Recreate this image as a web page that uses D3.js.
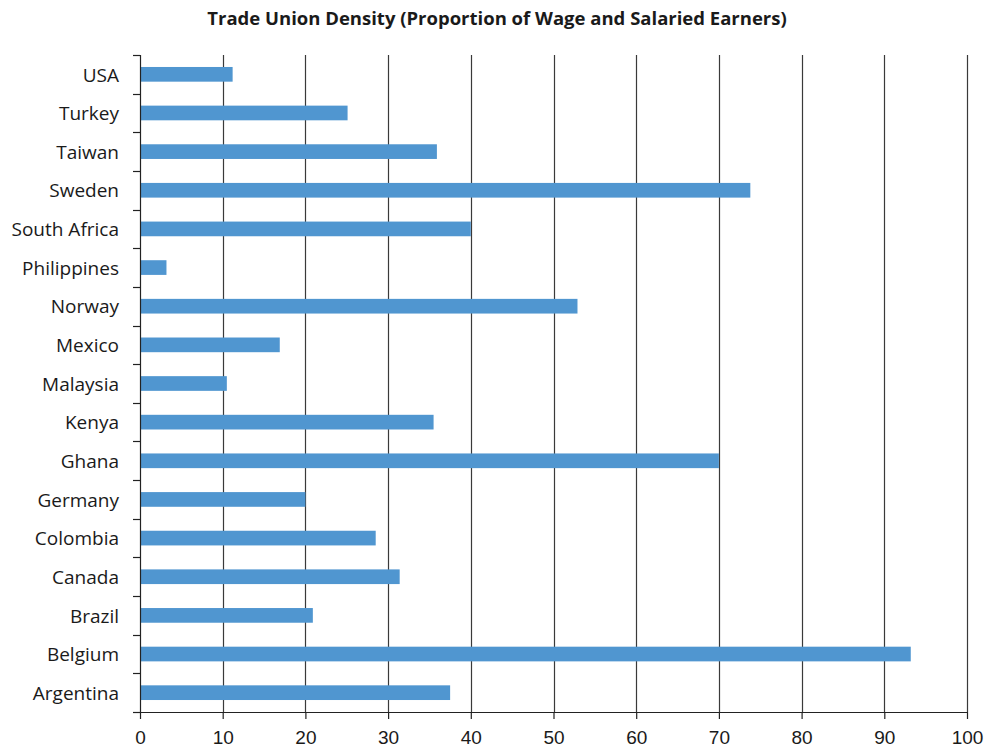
<!DOCTYPE html>
<html>
<head>
<meta charset="utf-8">
<script src="https://cdn.jsdelivr.net/npm/d3@7"></script>
<style>
  html, body { margin: 0; padding: 0; background: #fff; }
  svg { display: block; font-family: "Open Sans", "Noto Sans", sans-serif; }
</style>
</head>
<body>
<svg id="chart" width="984" height="751"></svg>
<script>
// Union density by country, listed top to bottom
const countries = ["USA", "Turkey", "Taiwan", "Sweden", "South Africa", "Philippines", "Norway",
  "Mexico", "Malaysia", "Kenya", "Ghana", "Germany", "Colombia", "Canada", "Brazil", "Belgium", "Argentina"];
const density = [11.2, 25.1, 35.9, 73.8, 40.0, 3.2, 52.9, 16.9, 10.5, 35.5, 70.0, 20.0, 28.5, 31.4, 20.9, 93.2, 37.5];
const xTicks = [0, 10, 20, 30, 40, 50, 60, 70, 80, 90, 100];
const title = "Trade Union Density (Proportion of Wage and Salaried Earners)";

const svg = d3.select("#chart");
const margin = { top: 55, right: 17, bottom: 39, left: 140 };
const width = 984 - margin.left - margin.right;
const height = 751 - margin.top - margin.bottom;

const x = d3.scaleLinear().domain([0, 100]).range([0, width]);
const y = d3.scaleBand().domain(countries).range([0, height]).paddingInner(0.62).paddingOuter(0.31);

const g = svg.append("g").attr("transform", `translate(${margin.left},${margin.top})`);

// vertical gridlines
g.append("g")
  .selectAll("line")
  .data(xTicks.filter(d => d > 0))
  .join("line")
  .attr("x1", d => Math.round(x(d)) + 0.5)
  .attr("x2", d => Math.round(x(d)) + 0.5)
  .attr("y1", 0)
  .attr("y2", height)
  .attr("stroke", "#3a3a3a")
  .attr("stroke-width", 1.2);

// bars
g.append("g")
  .selectAll("rect")
  .data(countries)
  .join("rect")
  .attr("x", x(0))
  .attr("y", d => y(d))
  .attr("width", (d, i) => x(density[i]) - x(0))
  .attr("height", y.bandwidth())
  .attr("fill", "#5096d0");

// x axis
const xAxis = g.append("g")
  .attr("transform", `translate(0,${height})`)
  .call(d3.axisBottom(x).tickValues(xTicks).tickSize(7).tickPadding(12).tickSizeOuter(0));
xAxis.select(".domain").attr("stroke", "#222").attr("stroke-width", 1.2);
xAxis.selectAll(".tick line").attr("stroke", "#222").attr("stroke-width", 1.2);
xAxis.selectAll("text").attr("font-size", 19).attr("fill", "#1a1a1a");

// y axis with ticks on the category boundaries
const boundaries = countries.map(d => y(d) - y.step() * y.paddingInner() / 2);
boundaries.push(height);
const yAxisG = g.append("g");
yAxisG.append("line")
  .attr("x1", 0.5).attr("x2", 0.5)
  .attr("y1", 0).attr("y2", height)
  .attr("stroke", "#222").attr("stroke-width", 1.2);
yAxisG.selectAll("line.tk")
  .data(boundaries)
  .join("line")
  .attr("class", "tk")
  .attr("x1", -7).attr("x2", 0)
  .attr("y1", d => Math.round(d) + 0.5)
  .attr("y2", d => Math.round(d) + 0.5)
  .attr("stroke", "#222").attr("stroke-width", 1.2);
yAxisG.selectAll("text")
  .data(countries)
  .join("text")
  .attr("x", -21)
  .attr("y", d => y(d) + y.bandwidth() / 2)
  .attr("dy", "0.38em")
  .attr("text-anchor", "end")
  .attr("font-size", 19)
  .attr("fill", "#1a1a1a")
  .text(d => d);

// title
svg.append("text")
  .attr("x", 497)
  .attr("y", 25)
  .attr("text-anchor", "middle")
  .attr("font-size", 18.5)
  .attr("font-weight", "bold")
  .attr("fill", "#1a1a1a")
  .text(title);
</script>
</body>
</html>
